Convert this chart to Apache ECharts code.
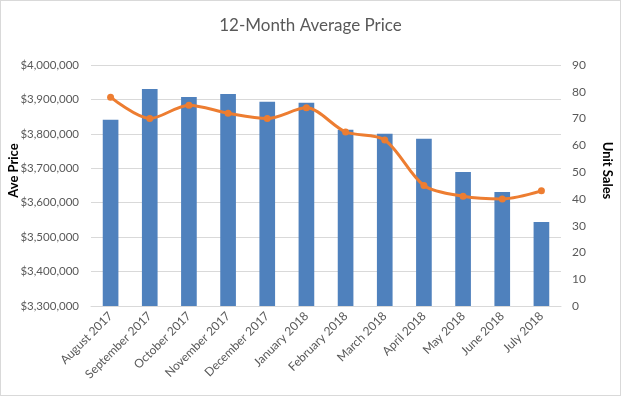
<!DOCTYPE html>
<html>
<head>
<meta charset="utf-8">
<script src="https://cdn.jsdelivr.net/npm/echarts@6/dist/echarts.min.js"></script>
<style>
  html, body { margin: 0; padding: 0; background: #fff; }
  #chart { width: 621px; height: 396px; box-sizing: border-box; border: 1px solid #d9d9d9; }
</style>
</head>
<body>
<div id="chart"></div>
<script>
// 数据
const months = ['August 2017', 'September 2017', 'October 2017', 'November 2017', 'December 2017', 'January 2018',
  'February 2018', 'March 2018', 'April 2018', 'May 2018', 'June 2018', 'July 2018'];
const avePrice = [3841000, 3930000, 3907000, 3916000, 3893000, 3890000, 3812000, 3800000, 3786000, 3689000, 3631000, 3544000];
const unitSales = [78, 70, 75, 72, 70, 74, 65, 62, 45, 41, 40, 43];
const priceTicks = [3300000, 4000000, 100000];
const salesTicks = [0, 90, 10];

const font = 'Lato, "Open Sans", sans-serif';
const grey = '#595959';

const money = v => '$' + v.toString().replace(/\B(?=(\d{3})+(?!\d))/g, ',');

const option = {
  animation: false,
  title: {
    text: '12-Month Average Price',
    left: 'center',
    top: 11,
    textStyle: {fontFamily: font, fontSize: 17, fontWeight: 'normal', color: grey}
  },
  grid: {left: 90, right: 59, top: 64, bottom: 89, containLabel: false, outerBoundsMode: 'none'},
  xAxis: {
    type: 'category',
    data: months,
    axisLine: {lineStyle: {color: '#d9d9d9'}},
    axisTick: {show: false},
    axisLabel: {rotate: 45, fontFamily: font, fontSize: 12, color: grey, interval: 0, margin: 8}
  },
  yAxis: [
    {
      type: 'value',
      min: priceTicks[0], max: priceTicks[1], interval: priceTicks[2],
      name: 'Ave Price',
      nameLocation: 'middle',
      nameGap: 71,
      nameMoveOverlap: false,
      nameTextStyle: {fontFamily: font, fontSize: 13, fontWeight: 'bold', color: '#000', padding: [0, 0, 0, 30]},
      axisLine: {show: false},
      axisTick: {show: false},
      splitLine: {lineStyle: {color: '#d9d9d9'}},
      axisLabel: {formatter: money, fontFamily: font, fontSize: 11.5, color: grey, margin: 12}
    },
    {
      type: 'value',
      min: salesTicks[0], max: salesTicks[1], interval: salesTicks[2],
      name: 'Unit Sales',
      nameLocation: 'middle',
      nameGap: 40,
      nameRotate: -90,
      nameMoveOverlap: false,
      nameTextStyle: {fontFamily: font, fontSize: 13, fontWeight: 'bold', color: '#000', padding: [0, 30, 0, 0]},
      axisLine: {show: false},
      axisTick: {show: false},
      splitLine: {show: false},
      axisLabel: {fontFamily: font, fontSize: 12, color: grey, margin: 11}
    }
  ],
  series: [
    {
      name: 'Ave Price',
      type: 'bar',
      data: avePrice,
      yAxisIndex: 0,
      barWidth: '40%',
      itemStyle: {color: '#4f81bd'}
    },
    {
      name: 'Unit Sales',
      type: 'line',
      data: unitSales,
      yAxisIndex: 1,
      smooth: 0.3,
      symbol: 'circle',
      symbolSize: 7,
      lineStyle: {color: '#ed7d31', width: 3},
      itemStyle: {color: '#ed7d31'}
    }
  ]
};

const chart = echarts.init(document.getElementById('chart'));
chart.setOption(option);
</script>
</body>
</html>
